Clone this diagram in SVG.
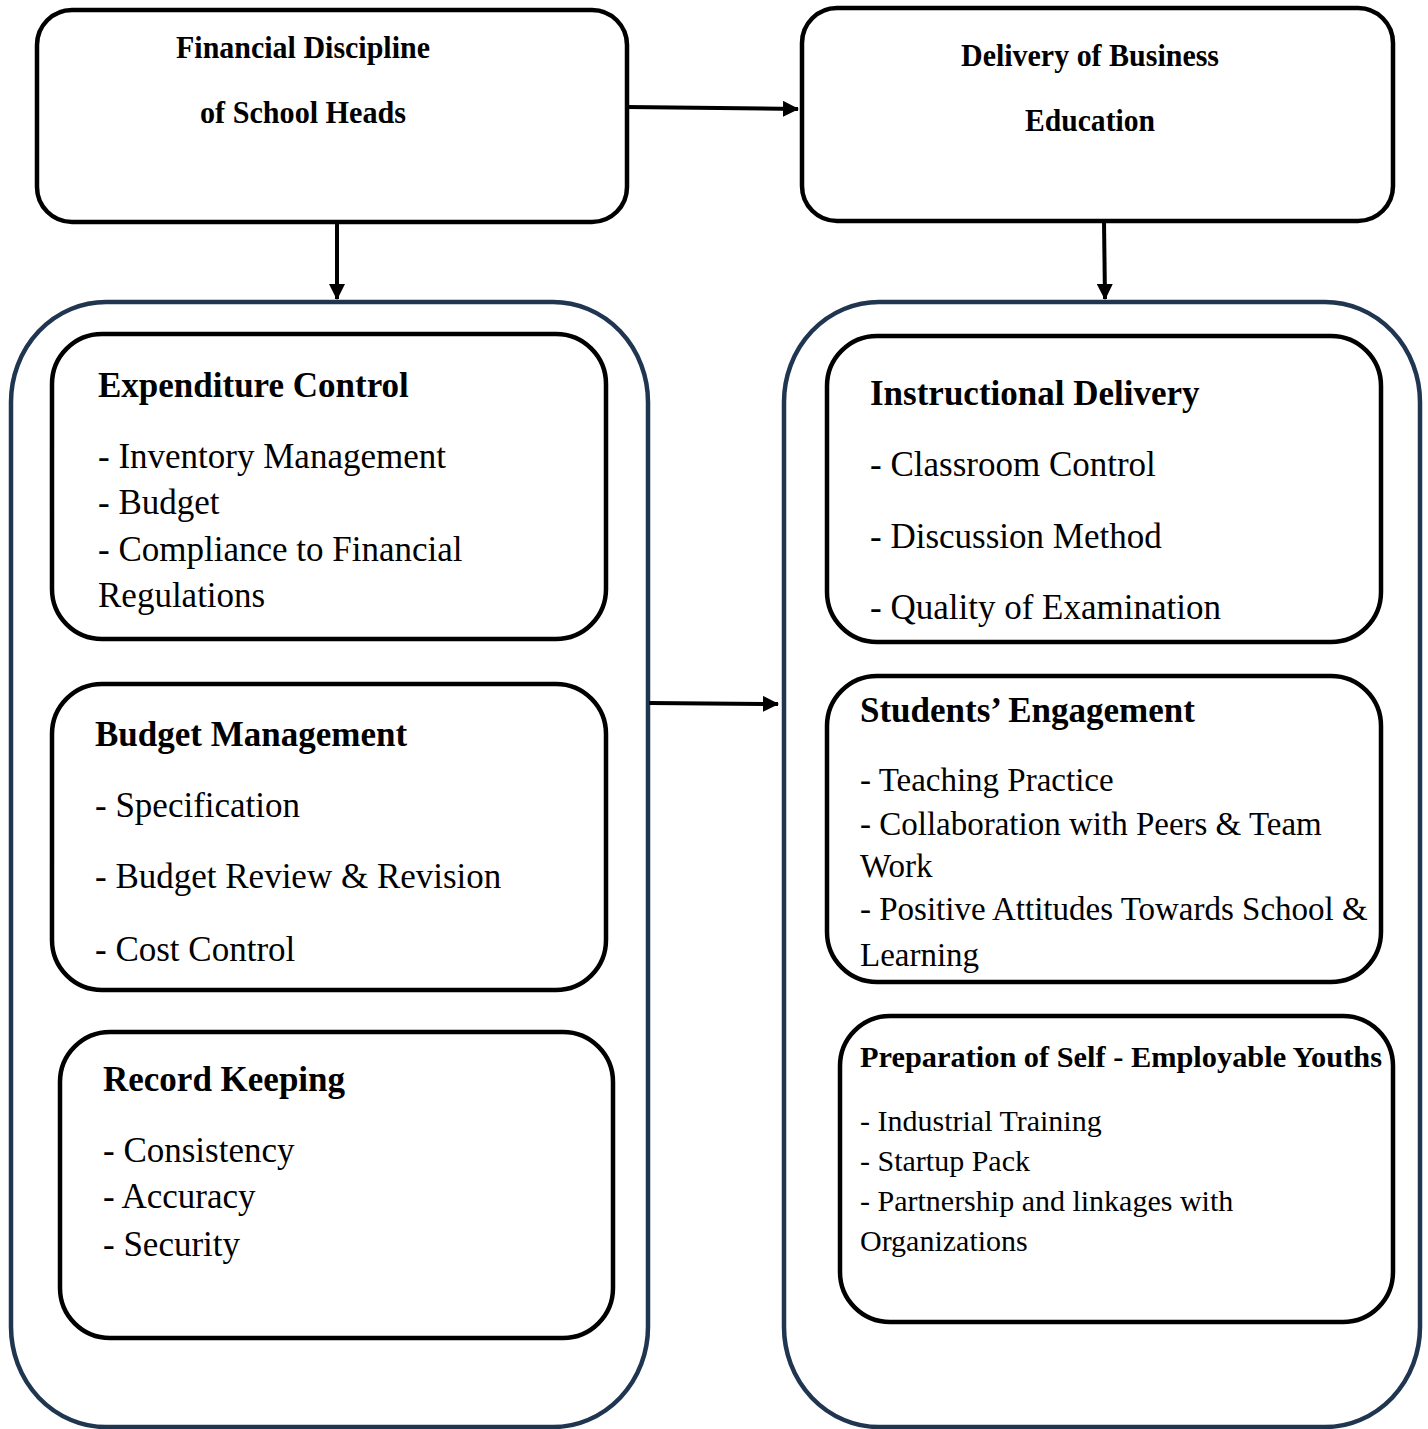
<svg xmlns="http://www.w3.org/2000/svg" width="1428" height="1429" viewBox="0 0 1428 1429">
<style>
.top{fill:#fff;stroke:#000;stroke-width:4.5}
.cont{fill:#fff;stroke:#1f3550;stroke-width:4.5}
.box{fill:#fff;stroke:#000;stroke-width:4.5}
.ttl{font-family:"Liberation Serif",serif;font-weight:bold;font-size:32px;fill:#000}
.h{font-family:"Liberation Serif",serif;font-weight:bold;font-size:35px;fill:#000}
.t{font-family:"Liberation Serif",serif;font-size:35px;fill:#000}
.t2{font-family:"Liberation Serif",serif;font-size:33px;fill:#000}
.t3{font-family:"Liberation Serif",serif;font-size:30px;fill:#000}
.edge{stroke:#000;stroke-width:4;fill:none}
</style>
<defs>
<marker id="ah2" viewBox="0 0 16 16" markerWidth="16" markerHeight="16" refX="15" refY="8" orient="auto" markerUnits="userSpaceOnUse">
<path d="M0,0 L16,8 L0,16 z" fill="#000"/>
</marker>
</defs>
<rect width="1428" height="1429" fill="#fff"/>

<g id="containers">
<rect id="left-container" class="cont" x="11" y="302" width="637" height="1125" rx="95" ry="100"/>
<rect id="right-container" class="cont" x="784" y="302" width="636" height="1125" rx="95" ry="100"/>
</g>

<g id="node-financial">
<rect class="top" x="37" y="10" width="590" height="212" rx="35"/>
<text class="ttl" x="303" y="58" text-anchor="middle" textLength="254" lengthAdjust="spacingAndGlyphs">Financial Discipline</text>
<text class="ttl" x="303" y="123" text-anchor="middle" textLength="206" lengthAdjust="spacingAndGlyphs">of School Heads</text>
</g>

<g id="node-delivery">
<rect class="top" x="802" y="8" width="591" height="213" rx="35"/>
<text class="ttl" x="1090" y="66" text-anchor="middle" textLength="258" lengthAdjust="spacingAndGlyphs">Delivery of Business</text>
<text class="ttl" x="1090" y="131" text-anchor="middle" textLength="130" lengthAdjust="spacingAndGlyphs">Education</text>
</g>

<g id="node-expenditure">
<rect class="box" x="52" y="334" width="554" height="305" rx="50"/>
<text class="h" x="98" y="397">Expenditure Control</text>
<text class="t" x="98" y="468">- Inventory Management</text>
<text class="t" x="98" y="514">- Budget</text>
<text class="t" x="98" y="561">- Compliance to Financial</text>
<text class="t" x="98" y="607">Regulations</text>
</g>

<g id="node-budget">
<rect class="box" x="52" y="684" width="554" height="306" rx="50"/>
<text class="h" x="95" y="746">Budget Management</text>
<text class="t" x="95" y="817">- Specification</text>
<text class="t" x="95" y="888">- Budget Review &amp; Revision</text>
<text class="t" x="95" y="961">- Cost Control</text>
</g>

<g id="node-record">
<rect class="box" x="60" y="1032" width="553" height="306" rx="50"/>
<text class="h" x="103" y="1091">Record Keeping</text>
<text class="t" x="103" y="1162">- Consistency</text>
<text class="t" x="103" y="1208">- Accuracy</text>
<text class="t" x="103" y="1256">- Security</text>
</g>

<g id="node-instructional">
<rect class="box" x="827" y="336" width="554" height="306" rx="50"/>
<text class="h" x="870" y="405">Instructional Delivery</text>
<text class="t" x="870" y="476">- Classroom Control</text>
<text class="t" x="870" y="548">- Discussion Method</text>
<text class="t" x="870" y="619">- Quality of Examination</text>
</g>

<g id="node-engagement">
<rect class="box" x="827" y="676" width="554" height="306" rx="50"/>
<text class="h" x="860" y="722">Students’ Engagement</text>
<text class="t2" x="860" y="791">- Teaching Practice</text>
<text class="t2" x="860" y="835">- Collaboration with Peers &amp; Team</text>
<text class="t2" x="860" y="877">Work</text>
<text class="t2" x="860" y="920">- Positive Attitudes Towards School &amp;</text>
<text class="t2" x="860" y="966">Learning</text>
</g>

<g id="node-preparation">
<rect class="box" x="840" y="1016" width="553" height="306" rx="50"/>
<text class="h" x="860" y="1067" style="font-size:29px" textLength="522" lengthAdjust="spacingAndGlyphs">Preparation of Self - Employable Youths</text>
<text class="t3" x="860" y="1131">- Industrial Training</text>
<text class="t3" x="860" y="1171">- Startup Pack</text>
<text class="t3" x="860" y="1211">- Partnership and linkages with</text>
<text class="t3" x="860" y="1251">Organizations</text>
</g>

<g id="connectors">
<line class="edge" x1="627" y1="107" x2="798" y2="109" marker-end="url(#ah2)"/>
<line class="edge" x1="337" y1="222" x2="337" y2="299" marker-end="url(#ah2)"/>
<line class="edge" x1="1104" y1="221" x2="1105" y2="299" marker-end="url(#ah2)"/>
<line class="edge" x1="649" y1="703" x2="778" y2="704" marker-end="url(#ah2)"/>
</g>
</svg>
